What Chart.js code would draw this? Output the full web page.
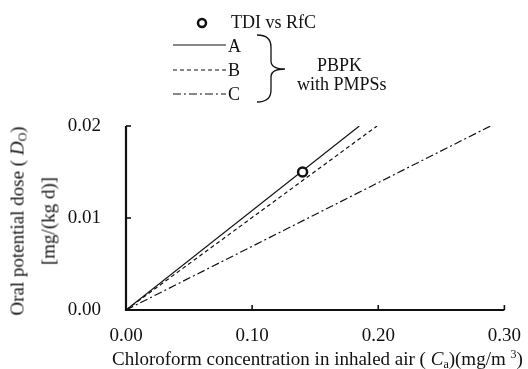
<!DOCTYPE html>
<html>
<head>
<meta charset="utf-8">
<script src="https://cdn.jsdelivr.net/npm/chart.js@4.4.0/dist/chart.umd.min.js"></script>
<style>
  body { margin: 0; background: #fff; }
  #wrap { position: relative; width: 528px; height: 369px; font-family: "Liberation Serif", "DejaVu Serif", serif; color: #111; }
  canvas { position: absolute; left: 0; top: 0; }
  .txt { position: absolute; font-size: 18px; white-space: nowrap; line-height: 1; }
  .ytitle { position: absolute; left: 33px; top: 221px; transform: translate(-50%, -50%) rotate(-90deg); text-align: center; font-size: 19px; line-height: 26px; white-space: nowrap; }
  sub { font-size: 12px; vertical-align: -3px; }
  sup { font-size: 12px; vertical-align: 7px; }
  svg { position: absolute; left: 0; top: 0; }
</style>
</head>
<body>
<div id="wrap">
  <canvas id="chart" width="528" height="369"></canvas>
  <svg width="528" height="120">
    <circle cx="202" cy="23" r="4" fill="#fff" stroke="#111" stroke-width="2.5"/>
    <line x1="173" y1="45" x2="226" y2="45" stroke="#111" stroke-width="1.2"/>
    <line x1="173" y1="70" x2="226" y2="70" stroke="#111" stroke-width="1.2" stroke-dasharray="4,3"/>
    <line x1="173" y1="94" x2="226" y2="94" stroke="#111" stroke-width="1.2" stroke-dasharray="8,3,2,3"/>
    <path d="M257,35 Q271,35 271,47 L271,61 Q271,69 285,69 Q271,69 271,77 L271,90 Q271,102 257,102" fill="none" stroke="#111" stroke-width="1.3"/>
  </svg>
  <div class="txt" style="left:231px;top:13px">TDI vs RfC</div>
  <div class="txt" style="left:228px;top:37px">A</div>
  <div class="txt" style="left:228px;top:61px">B</div>
  <div class="txt" style="left:228px;top:85px">C</div>
  <div class="txt" style="left:317px;top:56px">PBPK</div>
  <div class="txt" style="left:297px;top:75px">with PMPSs</div>
  <div class="ytitle">Oral potential dose ( <i>D</i><sub>O</sub>)<br>[mg/(kg d)]</div>
  <div class="txt" style="left:112px;top:348px;font-size:19px">Chloroform concentration in inhaled air ( <i>C</i><sub>a</sub>)(mg/m <sup>3</sup>)</div>
</div>
<script>
// values
const xTicks = [0.00, 0.10, 0.20, 0.30];
const yTicks = [0.00, 0.01, 0.02];
const lineA = [{ x: 0, y: 0 }, { x: 0.185, y: 0.02 }];
const lineB = [{ x: 0, y: 0 }, { x: 0.199, y: 0.02 }];
const lineC = [{ x: 0, y: 0 }, { x: 0.289, y: 0.02 }];
const tdiPoint = [{ x: 0.14, y: 0.015 }];

// inward tick marks and heavy axes
const axisTicks = {
    id: 'axisTicks',
    afterDraw(chart) {
        const { ctx, chartArea: a, scales: { x, y } } = chart;
        ctx.save();
        ctx.strokeStyle = '#111';
        ctx.lineWidth = 2.2;
        ctx.beginPath();
        ctx.moveTo(a.left, a.top); ctx.lineTo(a.left, a.bottom); ctx.lineTo(a.right, a.bottom);
        ctx.stroke();
        ctx.lineWidth = 1.6;
        xTicks.forEach(v => {
            const px = x.getPixelForValue(v);
            ctx.beginPath(); ctx.moveTo(px, a.bottom); ctx.lineTo(px, a.bottom - 5); ctx.stroke();
        });
        yTicks.forEach(v => {
            const py = y.getPixelForValue(v);
            ctx.beginPath(); ctx.moveTo(a.left, py); ctx.lineTo(a.left + 5, py); ctx.stroke();
        });
        ctx.restore();
    }
};

new Chart(document.getElementById('chart'), {
    type: 'scatter',
    data: {
        datasets: [
            { label: 'TDI vs RfC', data: tdiPoint, pointRadius: 4.5, pointBorderWidth: 2.5, pointBorderColor: '#111', pointBackgroundColor: '#fff', order: 0 },
            { label: 'A', data: lineA, showLine: true, borderColor: '#111', borderWidth: 1.2, pointRadius: 0, order: 1 },
            { label: 'B', data: lineB, showLine: true, borderColor: '#111', borderWidth: 1.2, borderDash: [4, 3], pointRadius: 0, order: 1 },
            { label: 'C', data: lineC, showLine: true, borderColor: '#111', borderWidth: 1.2, borderDash: [8, 3, 2, 3], pointRadius: 0, order: 1 }
        ]
    },
    options: {
        responsive: false, animation: false,
        layout: { padding: { left: 0, top: 126, right: 18, bottom: 0 } },
        plugins: { legend: { display: false }, tooltip: { enabled: false } },
        scales: {
            x: {
                type: 'linear', min: 0, max: 0.3,
                afterBuildTicks: s => { s.ticks = xTicks.map(v => ({ value: v })); },
                afterFit: s => { s.height = 59; },
                grid: { display: false }, border: { display: false },
                ticks: { color: '#111', padding: 7, font: { family: 'Liberation Serif', size: 19 }, callback: v => v.toFixed(2) }
            },
            y: {
                type: 'linear', min: 0, max: 0.02,
                afterBuildTicks: s => { s.ticks = yTicks.map(v => ({ value: v })); },
                afterFit: s => { s.width = 126; },
                grid: { display: false }, border: { display: false },
                ticks: { color: '#111', padding: 17, font: { family: 'Liberation Serif', size: 19 }, callback: v => v.toFixed(2) }
            }
        }
    },
    plugins: [axisTicks]
});
</script>
</body>
</html>
